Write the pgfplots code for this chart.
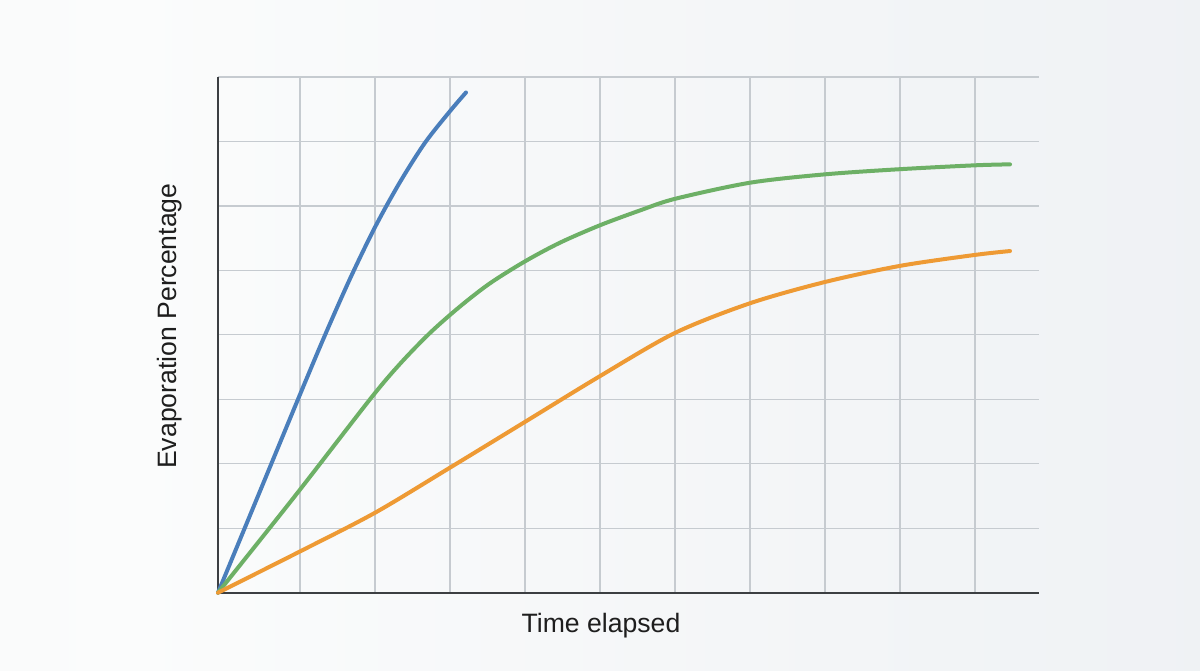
\documentclass[border=0pt]{standalone}
\usepackage{pgfplots}
\pgfplotsset{compat=1.18}
\usepackage{fontspec}
\setmainfont{Liberation Sans}
\definecolor{cblue}{HTML}{4A7EBB}
\definecolor{cgreen}{HTML}{6DB066}
\definecolor{corange}{HTML}{EE9A34}
\definecolor{gridc}{HTML}{C6CBD0}
\definecolor{axc}{HTML}{3C3F42}
\definecolor{txt}{HTML}{1E1E1E}
\definecolor{bga}{HTML}{F3F5F6}
\definecolor{bgb}{HTML}{FBFCFC}
\definecolor{bgc}{HTML}{F3F5F7}
\definecolor{bgd}{HTML}{E9ECF0}
\pgfdeclarehorizontalshading{bgshade}{100bp}{
  color(0bp)=(bga);
  color(30bp)=(bgb);
  color(60bp)=(bgc);
  color(100bp)=(bgd)
}
\begin{document}
\begin{tikzpicture}
\path[use as bounding box] (-109pt,-38.65pt) rectangle (491pt,296.35pt);
\shade[shading=bgshade] (-109pt,-38.65pt) rectangle (491pt,296.35pt);
\begin{axis}[
  at={(0,0)}, anchor=south west,
  scale only axis,
  width=410.5pt, height=257.85pt,
  xmin=218, xmax=1039, ymin=0, ymax=8,
  xtick={300,375,...,975}, ytick={1,2,...,8},
  xticklabels={}, yticklabels={},
  tick style={draw=none},
  grid=major,
  major grid style={gridc, line width=0.6pt},
  axis x line*=bottom, axis y line*=left,
  axis line style={-, axc, line width=1.1pt},
  clip=false,
  xlabel={Time elapsed},
  ylabel={Evaporation Percentage},
  label style={font=\fontsize{13.3pt}{15pt}\selectfont, text=txt},
  xlabel style={at={(axis description cs:0.4665,-0.078)}, anchor=base},
  ylabel style={at={(axis description cs:-0.0585,0.517)}, anchor=center},
  every axis plot/.append style={line width=2pt, smooth, tension=0.5, line cap=round},
]
\addplot[cblue] coordinates {
(218,0) (258,1.5) (298,3.0) (324,3.96) (350,4.87) (375,5.67) (400,6.37) (425,6.98) (450,7.47) (466,7.76)
};
\addplot[cgreen] coordinates {
(218,0) (295,1.5) (370,3.0) (400,3.55) (430,4.03) (460,4.44) (490,4.80) (525,5.14) (560,5.43) (600,5.70) (640,5.93) (675,6.11) (750,6.36) (825,6.49) (900,6.57) (975,6.63) (1010,6.645)
};
\addplot[corange] coordinates {
(218,0) (300,0.64) (375,1.24) (450,1.94) (525,2.65) (600,3.36) (675,4.03) (750,4.49) (825,4.82) (900,5.07) (975,5.24) (1010,5.30)
};
\end{axis}
\end{tikzpicture}
\end{document}
